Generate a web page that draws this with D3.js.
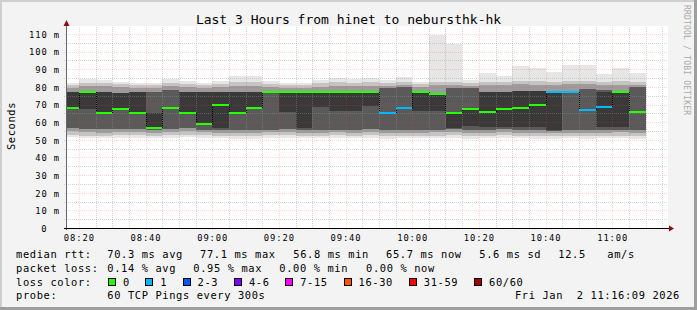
<!DOCTYPE html>
<html>
<head>
<meta charset="utf-8">
<script src="https://cdn.jsdelivr.net/npm/d3@7"></script>
<style>
  html, body { margin: 0; padding: 0; background: #f3f3f3; }
  svg text { font-family: "DejaVu Sans Mono", monospace; }
</style>
</head>
<body>
<svg id="chart" width="697" height="310"></svg>
<script>
// ---- data ----
const title = "Last 3 Hours from hinet to nebursthk-hk";
const day = "2026-01-02";
const startTime = "08:16:09", endTime = "11:16:09";

// end of each 5 minute step
const stepEnds = ["08:20","08:25","08:30","08:35","08:40","08:45","08:50","08:55","09:00","09:05",
                  "09:10","09:15","09:20","09:25","09:30","09:35","09:40","09:45","09:50","09:55",
                  "10:00","10:05","10:10","10:15","10:20","10:25","10:30","10:35","10:40","10:45",
                  "10:50","10:55","11:00","11:05","11:10"];

const medianRtt = [68.2, 77.1, 65.4, 67.7, 65.4, 56.8, 68.2, 65.4, 59.1, 69.9,
                   65.4, 68.2, 77.1, 77.1, 77.1, 77.1, 77.1, 77.1, 77.1, 65.4,
                   68.2, 77.1, 76.2, 65.4, 67.7, 66.0, 67.7, 68.2, 69.9, 77.1,
                   77.1, 67.1, 68.8, 77.1, 65.7];
const lossCount = [0,0,0,0,0,0,0,0,0,0, 0,0,0,0,0,0,0,0,0,1, 1,0,0,0,0,0,0,0,0,1, 1,1,1,0,0];

// smoke: ping distribution per step (ms)
const smokeMax = [82.4, 84.3, 83.9, 83.0, 82.0, 82.2, 84.3, 83.3, 82.4, 83.3,
                  86.2, 86.2, 83.3, 82.0, 82.2, 84.0, 85.0, 84.5, 85.0, 83.9,
                  85.8, 83.0, 109.5, 104.2, 83.9, 88.0, 86.2, 91.9, 90.5, 88.6,
                  92.4, 92.4, 87.3, 90.5, 88.0];
const smoke95 = [81.3, 82.0, 82.2, 81.5, 81.0, 81.0, 82.0, 81.8, 81.2, 81.5,
                 82.5, 82.5, 81.5, 80.8, 81.0, 82.0, 82.5, 82.3, 82.5, 82.0,
                 82.8, 81.5, 83.0, 82.7, 82.2, 83.0, 82.8, 83.5, 83.2, 82.8,
                 83.5, 83.5, 82.6, 83.2, 83.0];
const smoke85 = [79.6, 80.3, 80.3, 79.8, 79.5, 79.4, 80.5, 80.0, 79.6, 79.8,
                 80.6, 80.6, 79.8, 79.3, 79.4, 80.2, 80.5, 80.3, 80.5, 80.4,
                 80.8, 79.8, 81.0, 80.8, 80.5, 81.0, 80.8, 81.5, 81.2, 81.0,
                 81.6, 81.5, 80.8, 81.2, 81.0];
const smoke75 = [77.0, 77.2, 77.0, 76.8, 77.0, 77.0, 78.5, 77.0, 77.0, 77.0,
                 77.0, 77.0, 77.3, 76.6, 76.6, 76.8, 76.8, 76.8, 76.8, 79.6,
                 79.8, 76.8, 76.4, 79.2, 79.4, 77.2, 77.2, 77.4, 77.4, 76.8,
                 77.0, 78.6, 78.4, 77.0, 80.0];
const smoke60 = [77.0, 77.2, 77.0, 76.8, 77.0, 65.0, 68.2, 77.0, 77.0, 77.0,
                 77.0, 77.0, 77.1, 76.6, 76.6, 76.8, 76.8, 76.8, 76.8, 65.4,
                 68.2, 76.8, 76.4, 65.6, 67.7, 77.2, 77.2, 77.4, 77.4, 76.8,
                 77.1, 67.1, 77.2, 77.0, 65.7];
const smoke40 = [67.9, 67.5, 65.2, 67.5, 65.2, 56.5, 68.2, 65.2, 59.0, 56.5,
                 65.2, 68.0, 77.1, 66.0, 56.5, 68.5, 66.5, 66.5, 69.0, 65.4,
                 68.2, 66.5, 66.5, 56.5, 58.0, 57.0, 57.0, 57.0, 57.0, 55.5,
                 77.1, 67.1, 57.0, 57.0, 65.7];
const smoke25 = [56.8, 56.2, 56.0, 56.3, 56.0, 55.8, 56.0, 56.5, 55.8, 55.8,
                 55.5, 55.6, 55.8, 56.0, 55.8, 55.6, 55.8, 55.6, 56.0, 55.6,
                 55.8, 55.6, 55.8, 56.0, 55.5, 55.8, 56.0, 55.8, 55.6, 55.2,
                 55.6, 55.4, 55.6, 55.8, 55.4];
const smoke15 = [54.8, 54.2, 54.0, 54.3, 54.2, 54.0, 54.3, 54.8, 54.2, 54.0,
                 53.8, 54.0, 54.2, 54.3, 54.0, 54.0, 54.2, 54.0, 54.4, 53.8,
                 54.0, 54.0, 54.2, 54.2, 53.8, 54.0, 54.2, 54.0, 54.0, 53.6,
                 54.0, 53.8, 54.0, 54.2, 53.8];
const smoke05 = [53.0, 52.4, 52.2, 52.6, 52.5, 52.4, 52.6, 53.0, 52.5, 52.3,
                 52.0, 52.2, 52.5, 52.6, 52.4, 52.3, 52.5, 52.3, 52.6, 52.0,
                 52.2, 52.3, 52.4, 52.5, 52.0, 52.2, 52.5, 52.3, 52.2, 51.9,
                 52.3, 52.0, 52.2, 52.4, 52.0];
const smokeMin = [51.4, 50.9, 50.8, 51.0, 51.0, 50.8, 51.0, 51.4, 51.0, 50.8,
                  50.6, 50.7, 51.0, 51.0, 50.9, 50.8, 51.0, 50.8, 51.1, 50.6,
                  50.8, 50.8, 50.9, 51.0, 50.6, 50.8, 51.0, 50.8, 50.7, 50.5,
                  50.8, 50.6, 50.8, 50.9, 50.6];

const yTicks = [0, 10, 20, 30, 40, 50, 60, 70, 80, 90, 100, 110];
const xTicks = ["08:20","08:40","09:00","09:20","09:40","10:00","10:20","10:40","11:00"];

const lossColors = [
  { label: "0",     color: "#26ff00" },
  { label: "1",     color: "#00b8ff" },
  { label: "2-3",   color: "#0059ff" },
  { label: "4-6",   color: "#7e00ff" },
  { label: "7-15",  color: "#ff00ff" },
  { label: "16-30", color: "#ff5500" },
  { label: "31-59", color: "#ff0000" },
  { label: "60/60", color: "#a10000" }
];

const rttStats = [70.3, 77.1, 56.8, 65.7];
const lossStats = [0.14, 0.95, 0.00, 0.00];
const statNames = ["avg", "max", "min", "now"];
const rttSd = 5.6, amPerSec = 12.5;
const probe = "60 TCP Pings every 300s";
const stamp = "Fri Jan  2 11:16:09 2026";

// ---- chart ----
const svg = d3.select("#chart");
const W = 697, H = 310;
const X0 = 66, X1 = 666, Y0 = 228, Ytop = 26;
const parse = d3.timeParse("%Y-%m-%d %H:%M:%S");
const t = s => parse(`${day} ${s.length === 5 ? s + ":00" : s}`);

const x = d3.scaleTime().domain([t(startTime), t(endTime)]).range([X0, X1]);
const y = d3.scaleLinear().domain([0, 113.4]).range([Y0, Y0 - 200]);

// frame
svg.append("rect").attr("width", W).attr("height", H).attr("fill", "#f3f3f3");
svg.append("rect").attr("x", 0).attr("y", 0).attr("width", W).attr("height", 2).attr("fill", "#cfcfcf");
svg.append("rect").attr("x", 0).attr("y", 0).attr("width", 2).attr("height", H).attr("fill", "#cfcfcf");
svg.append("rect").attr("x", 0).attr("y", H - 3).attr("width", W).attr("height", 3).attr("fill", "#9e9e9e");
svg.append("rect").attr("x", W - 3).attr("y", 0).attr("width", 3).attr("height", H).attr("fill", "#9e9e9e");

// canvas
svg.append("rect").attr("x", X0).attr("y", Ytop).attr("width", X1 - X0 + 2).attr("height", Y0 - Ytop)
  .attr("fill", "#fff");

// smoke
const steps = stepEnds.map((s, i) => {
  const end = t(s);
  const begin = d3.max([d3.timeMinute.offset(end, -5), t(startTime)]);
  return { i, begin, end };
});

const bands = [
  [smokeMin, smokeMax, "#e6e6e6"],
  [smoke05, smoke95, "#c4c4c4"],
  [smoke15, smoke85, "#9c9c9c"],
  [smoke25, smoke75, "#5a5a5a"],
  [smoke40, smoke60, "#393939"]
];

const gSmoke = svg.append("g").attr("shape-rendering", "crispEdges");
bands.forEach(([lo, hi, color]) => {
  gSmoke.append("g").selectAll("rect")
    .data(steps)
    .enter().append("rect")
      .attr("x", d => x(d.begin))
      .attr("width", d => x(d.end) - x(d.begin))
      .attr("y", d => y(hi[d.i]))
      .attr("height", d => Math.max(0, y(lo[d.i]) - y(hi[d.i])))
      .attr("fill", color);
});

// grid on top of the smoke
const minorColor = "rgba(150,150,150,0.4)", majorColor = "rgba(255,60,60,0.22)";
const gGrid = svg.append("g").attr("shape-rendering", "crispEdges");
const minorT = d3.timeMinute.every(5).range(t(startTime), t(endTime));
gGrid.selectAll(".vminor")
  .data(minorT.filter(d => d.getMinutes() % 20 !== 0))
  .enter().append("line")
    .attr("x1", d => Math.round(x(d)) + 0.5).attr("x2", d => Math.round(x(d)) + 0.5)
    .attr("y1", Y0).attr("y2", Ytop)
    .attr("stroke", minorColor).attr("stroke-dasharray", "1,1");
gGrid.selectAll(".hminor")
  .data(d3.range(5, 114, 10))
  .enter().append("line")
    .attr("x1", X0 - 2).attr("x2", X1 + 2)
    .attr("y1", d => Math.round(y(d)) + 0.5).attr("y2", d => Math.round(y(d)) + 0.5)
    .attr("stroke", minorColor).attr("stroke-dasharray", "1,1");
gGrid.selectAll(".vmajor")
  .data(xTicks.map(t))
  .enter().append("line")
    .attr("x1", d => Math.round(x(d)) + 0.5).attr("x2", d => Math.round(x(d)) + 0.5)
    .attr("y1", Y0 + 2).attr("y2", Ytop)
    .attr("stroke", majorColor).attr("stroke-dasharray", "1,1");
gGrid.selectAll(".hmajor")
  .data(yTicks.filter(d => d > 0))
  .enter().append("line")
    .attr("x1", X0 - 2).attr("x2", X1 + 2)
    .attr("y1", d => Math.round(y(d)) + 0.5).attr("y2", d => Math.round(y(d)) + 0.5)
    .attr("stroke", majorColor).attr("stroke-dasharray", "1,1");

// median: dotted step connectors + coloured bars
const gMed = svg.append("g").attr("shape-rendering", "crispEdges");
gMed.selectAll(".conn")
  .data(steps.slice(1).filter(d => medianRtt[d.i] !== medianRtt[d.i - 1]))
  .enter().append("line")
    .attr("x1", d => Math.round(x(d.begin)) + 0.5).attr("x2", d => Math.round(x(d.begin)) + 0.5)
    .attr("y1", d => y(medianRtt[d.i - 1])).attr("y2", d => y(medianRtt[d.i]))
    .attr("stroke", "#000").attr("stroke-dasharray", "1,1");
gMed.selectAll(".med")
  .data(steps)
  .enter().append("rect")
    .attr("x", d => x(d.begin))
    .attr("width", d => x(d.end) - x(d.begin))
    .attr("y", d => Math.round(y(medianRtt[d.i])) - 1)
    .attr("height", 2)
    .attr("fill", d => lossColors[lossCount[d.i]].color);

// axes
const axisFont = g => g.selectAll("text")
  .attr("font-family", "DejaVu Sans Mono").attr("font-size", "8.8px")
  .attr("letter-spacing", "0.9px").attr("fill", "#000");

const xAxis = svg.append("g")
  .attr("transform", `translate(0,${Y0})`)
  .call(d3.axisBottom(x).tickValues(xTicks.map(t)).tickFormat(d3.timeFormat("%H:%M")).tickSize(0))
  .call(axisFont);
xAxis.select(".domain").remove();
xAxis.selectAll("text").attr("y", 12.7).attr("dy", 0);

const yAxis = svg.append("g")
  .attr("transform", `translate(${X0},0)`)
  .call(d3.axisLeft(y).tickValues(yTicks).tickFormat(d => d === 0 ? "0" : `${d} m`).tickSize(0))
  .call(axisFont);
yAxis.select(".domain").remove();
yAxis.selectAll("text").attr("x", d => d === 0 ? -18.5 : -6).attr("dy", "0.38em");

svg.append("line").attr("x1", X0 + 0.5).attr("x2", X0 + 0.5).attr("y1", Y0 + 2).attr("y2", Ytop - 3)
  .attr("stroke", "#666");
svg.append("line").attr("x1", X0 - 2).attr("x2", X1 + 4).attr("y1", Y0 + 0.5).attr("y2", Y0 + 0.5)
  .attr("stroke", "#000");
svg.append("path").attr("d", `M${X0 - 2.5},${Ytop} L${X0 + 3.5},${Ytop} L${X0 + 0.5},${Ytop - 6} Z`)
  .attr("fill", "#8b1010");
svg.append("path").attr("d", `M${X1 + 3},${Y0 - 2.5} L${X1 + 3},${Y0 + 3.5} L${X1 + 8},${Y0 + 0.5} Z`)
  .attr("fill", "#8b1010");

// title and labels
svg.append("text").attr("x", 348.5).attr("y", 24).attr("text-anchor", "middle")
  .attr("font-size", "13px").attr("fill", "#000").text(title);
svg.append("text").attr("transform", "translate(15,126) rotate(-90)").attr("text-anchor", "middle")
  .attr("font-size", "10.4px").attr("letter-spacing", "0.6px").attr("fill", "#000").text("Seconds");
svg.append("text").attr("transform", "translate(684,5) rotate(90)")
  .attr("font-size", "8px").attr("letter-spacing", "0.2px").attr("fill", "#aaa")
  .text("RRDTOOL / TOBI OETIKER");

// legend
const legend = svg.append("g").attr("font-size", "10.4px").attr("letter-spacing", "0.62px").attr("fill", "#000");
const rowY = [257.7, 271.6, 285.5, 299.4];
const put = (xx, yy, s, anchor) => legend.append("text").attr("x", xx).attr("y", yy)
  .attr("text-anchor", anchor || "start").style("white-space", "pre").text(s);

put(16, rowY[0], "median rtt:");
const rttX = [107.3, 200, 293.3, 386];
rttStats.forEach((v, k) => put(rttX[k], rowY[0], `${v.toFixed(1)} ms ${statNames[k]}`));
put(479.3, rowY[0], `${rttSd.toFixed(1)} ms sd`);
put(558.3, rowY[0], `${amPerSec.toFixed(1)}`);
put(607.3, rowY[0], "am/s");

put(16, rowY[1], "packet loss:");
const lossX = [107.3, 193.3, 279.3, 366];
lossStats.forEach((v, k) => put(lossX[k], rowY[1], `${v.toFixed(2)} % ${statNames[k]}`));

put(16, rowY[2], "loss color:");
let cx = 108;
lossColors.forEach(c => {
  legend.append("rect").attr("x", cx + 0.5).attr("y", 278.5).attr("width", 7).attr("height", 7)
    .attr("fill", c.color).attr("stroke", "#000").attr("shape-rendering", "crispEdges");
  put(cx + 15, rowY[2], c.label);
  cx = cx + 15 + c.label.length * 7 + 15.3;
});

put(16, rowY[3], "probe:");
put(107.3, rowY[3], probe);
put(680, rowY[3], stamp, "end");
</script>
</body>
</html>
